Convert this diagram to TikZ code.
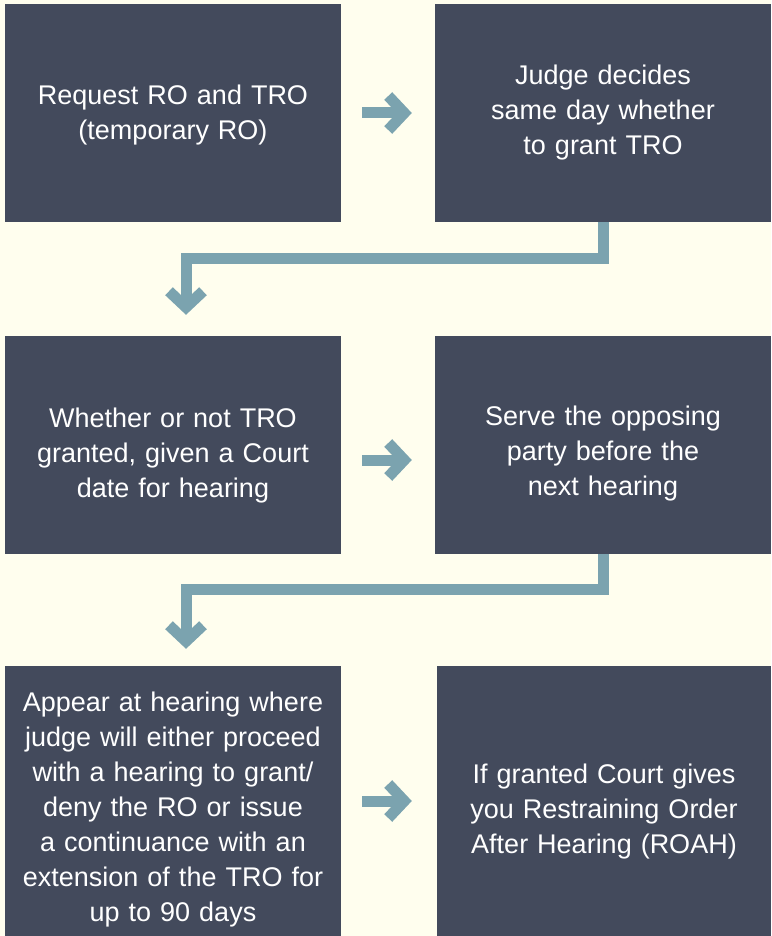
\documentclass[tikz,border=0pt]{standalone}
\usepackage{fontspec}
\setmainfont{Liberation Sans}
\usepackage{tikz}
\usetikzlibrary{arrows.meta, positioning}
\definecolor{slatebox}{HTML}{434A5C}
\definecolor{creambg}{HTML}{FFFEEE}
\definecolor{tealflow}{HTML}{7BA3AF}
\tikzset{
  stepbox/.style={rectangle,fill=slatebox,text=white,align=center,inner sep=0pt,
    minimum width=336pt,minimum height=218pt,text width=326pt,
    font=\fontsize{27}{35}\selectfont},
  tallbox/.style={stepbox,minimum height=270pt},
  lowered/.style={execute at begin node={\rule{0pt}{#1}}},
  flowarrow/.style={-{Straight Barb[sharp,length=16pt,width=34pt]},line width=11pt,tealflow},
  flowelbow/.style={flowarrow,line join=miter},
}

\begin{document}
\begin{tikzpicture}[x=1pt,y=-1pt]
  \fill[creambg] (0,0) rectangle (771,936);
  \useasboundingbox (0,0) rectangle (771,936);
  \node[stepbox,lowered=24pt] (nRequest) at (173,113) {Request RO and TRO\\(temporary RO)};
  \node[stepbox] (nJudge) at (603,113) {Judge decides\\same day whether\\to grant TRO};
  \node[stepbox,lowered=40pt] (nCourtDate) at (173,445) {Whether or not TRO\\granted, given a Court\\date for hearing};
  \node[stepbox,lowered=36pt] (nServe) at (603,445) {Serve the opposing\\party before the\\next hearing};
  \node[tallbox,lowered=36pt] (nAppear) at (173,801) {Appear at hearing where\\judge will either proceed\\with a hearing to grant/\\deny the RO or issue\\a continuance with an\\extension of the TRO for\\up to 90 days};
  \node[tallbox,lowered=40pt,minimum width=334pt] (nROAH) at (604,801) {If granted Court gives\\you Restraining Order\\After Hearing (ROAH)};
  \coordinate (turnA) at (186,258);
  \coordinate (turnB) at (186,589);
  \draw[flowarrow,shorten <=21pt,shorten >=23pt] (nRequest.east) -- (nJudge.west);
  \draw[flowelbow,shorten >=21pt] (nJudge.south) |- (turnA) -- (turnA |- nCourtDate.north);
  \draw[flowarrow,shorten <=21pt,shorten >=23pt] ([yshift=-15pt]nCourtDate.east) -- ([yshift=-15pt]nServe.west);
  \draw[flowelbow,shorten >=17pt] (nServe.south) |- (turnB) -- (turnB |- nAppear.north);
  \draw[flowarrow,shorten <=21pt,shorten >=25pt] (nAppear.east) -- (nROAH.west);
\end{tikzpicture}
\end{document}
